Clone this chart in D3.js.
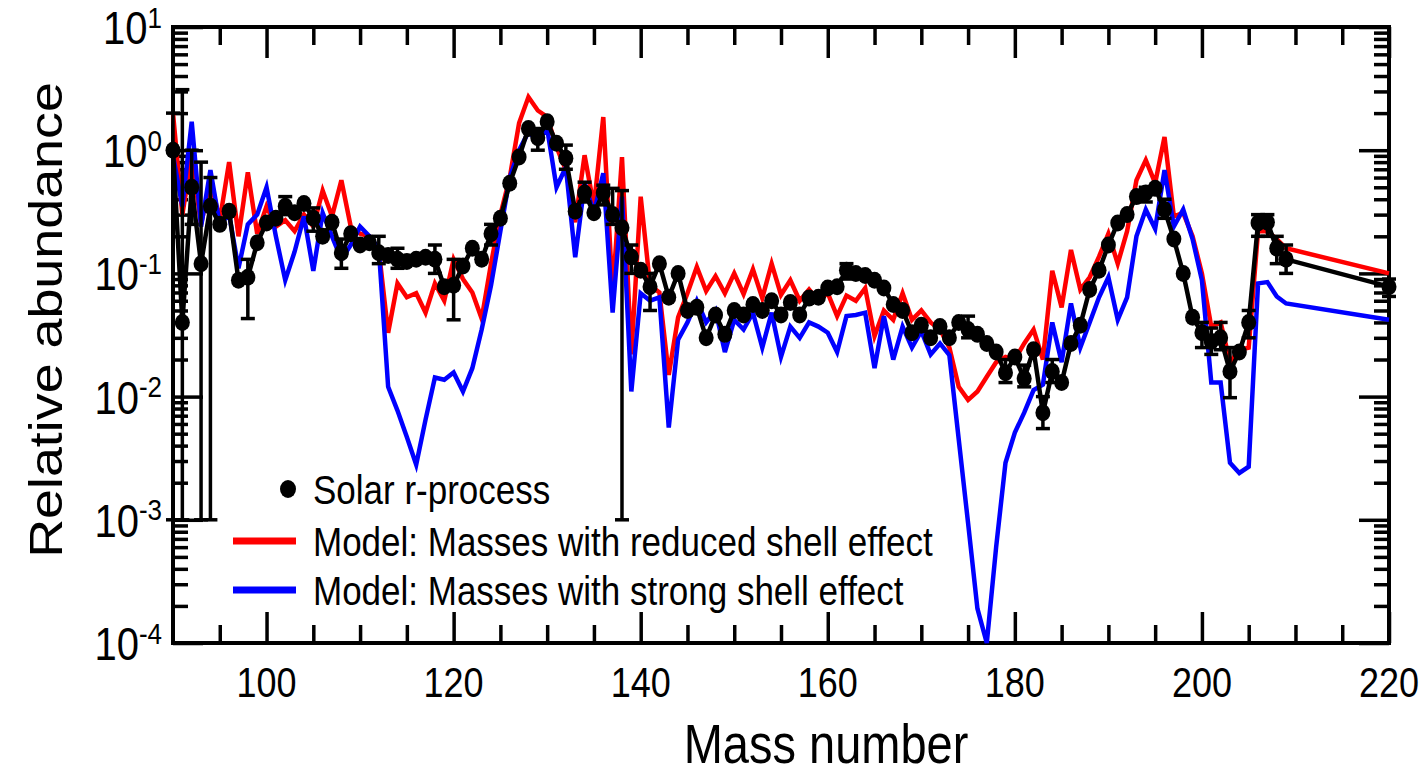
<!DOCTYPE html>
<html>
<head>
<meta charset="utf-8">
<script src="https://cdn.jsdelivr.net/npm/d3@7"></script>
<style>
  html, body { margin: 0; padding: 0; background: #fff; }
  svg { display: block; }
  text { font-family: "Liberation Sans", Arial, sans-serif; fill: #000; }
</style>
</head>
<body>
<svg id="chart" width="1422" height="774"></svg>
<script>
// Mass numbers A for every plotted nucleus
const massNumbers = [
  90, 91, 92, 93, 94, 95, 96, 97, 98, 99,
  100, 101, 102, 103, 104, 105, 106, 107, 108, 109,
  110, 111, 112, 113, 114, 115, 116, 117, 118, 119,
  120, 121, 122, 123, 124, 125, 126, 127, 128, 129,
  130, 131, 132, 133, 134, 135, 136, 137, 138, 139,
  140, 141, 142, 143, 144, 145, 146, 147, 148, 149,
  150, 151, 152, 153, 154, 155, 156, 157, 158, 159,
  160, 161, 162, 163, 164, 165, 166, 167, 168, 169,
  170, 171, 172, 173, 174, 175, 176, 177, 178, 179,
  180, 181, 182, 183, 184, 185, 186, 187, 188, 189,
  190, 191, 192, 193, 194, 195, 196, 197, 198, 199,
  200, 201, 202, 203, 204, 205, 206, 207, 208, 209,
  220
];

// Solar r-process residual abundances
const solarAbundance = [
  1.0, 0.04, 0.5, 0.12, 0.35, 0.25, 0.32, 0.088, 0.093, 0.177,
  0.257, 0.28, 0.35, 0.31, 0.37, 0.28, 0.2, 0.26, 0.147, 0.21,
  0.17, 0.177, 0.147, 0.14, 0.13, 0.125, 0.13, 0.135, 0.13, 0.078,
  0.08, 0.115, 0.16, 0.13, 0.21, 0.28, 0.54, 0.88, 1.5, 1.26,
  1.7, 1.14, 0.86, 0.32, 0.45, 0.31, 0.45, 0.30, 0.235, 0.136,
  0.106, 0.078, 0.12, 0.064, 0.1, 0.05, 0.053, 0.030, 0.046, 0.032,
  0.05, 0.046, 0.056, 0.05, 0.06, 0.046, 0.058, 0.046, 0.063, 0.064,
  0.076, 0.078, 0.106, 0.1, 0.096, 0.088, 0.076, 0.056, 0.05, 0.033,
  0.038, 0.030, 0.037, 0.030, 0.04, 0.035, 0.032, 0.027, 0.023, 0.0156,
  0.021, 0.014, 0.024, 0.0074, 0.016, 0.013, 0.027, 0.038, 0.074, 0.106,
  0.17, 0.257, 0.30, 0.42, 0.45, 0.49, 0.33, 0.19, 0.1, 0.044,
  0.033, 0.028, 0.03, 0.016, 0.023, 0.040, 0.257, 0.26, 0.16, 0.13,
  0.078
];

// Model abundances, masses with reduced shell effect
const reducedShellModel = [
  2.0, 0.3, 0.9, 0.25, 0.57, 0.27, 0.8, 0.2, 0.66, 0.21,
  0.35, 0.24, 0.27, 0.22, 0.3, 0.24, 0.47, 0.29, 0.57, 0.24,
  0.21, 0.2, 0.155, 0.033, 0.083, 0.064, 0.069, 0.048, 0.083, 0.06,
  0.13, 0.09, 0.07, 0.043, 0.12, 0.3, 0.6, 1.66, 2.7, 2.1,
  1.86, 1.06, 0.69, 0.26, 0.91, 0.35, 1.86, 0.069, 0.88, 0.022,
  0.42, 0.08, 0.07, 0.015, 0.044, 0.069, 0.113, 0.072, 0.095, 0.069,
  0.1, 0.068, 0.108, 0.063, 0.12, 0.067, 0.088, 0.06, 0.074, 0.06,
  0.069, 0.045, 0.066, 0.06, 0.076, 0.031, 0.05, 0.042, 0.069, 0.042,
  0.05, 0.04, 0.035, 0.025, 0.012, 0.0094, 0.011, 0.0145, 0.019, 0.021,
  0.02, 0.027, 0.035, 0.02, 0.105, 0.053, 0.155, 0.074, 0.093, 0.137,
  0.21, 0.12, 0.22, 0.57, 0.83, 0.54, 1.28, 0.29, 0.31, 0.2,
  0.1, 0.037, 0.04, 0.019, 0.024, 0.025, 0.22, 0.22, 0.19, 0.16,
  0.1
];

// Model abundances, masses with strong shell effect
const strongShellModel = [
  0.9, 0.35, 1.7, 0.24, 0.69, 0.25, 0.3, 0.11, 0.25, 0.3,
  0.5, 0.2, 0.088, 0.15, 0.29, 0.105, 0.31, 0.2, 0.13, 0.17,
  0.24, 0.2, 0.16, 0.012, 0.0077, 0.0047, 0.0028, 0.0065, 0.0143, 0.0137,
  0.0157, 0.011, 0.017, 0.035, 0.08, 0.22, 0.6, 1.0, 1.4, 1.2,
  1.5, 0.5, 0.73, 0.135, 0.54, 0.31, 0.65, 0.048, 0.42, 0.011,
  0.069, 0.06, 0.064, 0.0056, 0.029, 0.04, 0.06, 0.04, 0.05, 0.023,
  0.042, 0.035, 0.048, 0.025, 0.048, 0.021, 0.037, 0.03, 0.04, 0.037,
  0.033, 0.023, 0.045, 0.046, 0.048, 0.017, 0.045, 0.02, 0.037, 0.025,
  0.034, 0.022, 0.027, 0.0217, 0.0045, 0.00094, 0.00019, 0.0001, 0.0006, 0.0029,
  0.0051, 0.0074, 0.0113, 0.0125, 0.04, 0.019, 0.057, 0.025, 0.04, 0.064,
  0.093, 0.042, 0.064, 0.2, 0.33, 0.23, 0.69, 0.24, 0.33, 0.19,
  0.088, 0.013, 0.013, 0.0029, 0.0024, 0.0027, 0.083, 0.085, 0.065, 0.057,
  0.042
];

// Uncertainty ranges of the solar values: [A, lower, upper]
const solarErrorBars = [
  [90, 0.001, 2.0], [91, 0.001, 3.1], [92, 0.25, 1.0], [93, 0.001, 0.8], [94, 0.001, 0.6],
  [98, 0.043, 0.13], [102, 0.3, 0.42], [105, 0.22, 0.34], [108, 0.11, 0.19], [112, 0.12, 0.2],
  [114, 0.11, 0.16], [118, 0.1, 0.17], [120, 0.042, 0.13], [124, 0.17, 0.25], [129, 1.0, 1.5],
  [132, 0.7, 1.1], [134, 0.38, 0.55], [136, 0.36, 0.52], [137, 0.25, 0.49], [138, 0.001, 0.47],
  [139, 0.1, 0.17], [141, 0.05, 0.1], [162, 0.09, 0.12], [175, 0.03, 0.045], [179, 0.013, 0.02],
  [181, 0.012, 0.018], [183, 0.0055, 0.01], [184, 0.013, 0.02], [194, 0.38, 0.5], [196, 0.28, 0.4],
  [200, 0.025, 0.04], [201, 0.022, 0.036], [202, 0.024, 0.04], [203, 0.0098, 0.025], [205, 0.03, 0.05],
  [206, 0.2, 0.3], [207, 0.2, 0.3], [208, 0.12, 0.2], [209, 0.1, 0.17], [220, 0.065, 0.09]
];

const xMajorTicks = [100, 120, 140, 160, 180, 200, 220];
const xMinorTicks = [95, 105, 110, 115, 125, 130, 135, 145, 150, 155, 165, 170, 175,
                     185, 190, 195, 205, 210, 215];
const yDecadeExponents = [1, 0, -1, -2, -3, -4];
const yMinorMultipliers = [2, 3, 4, 5, 6, 7, 8, 9];
const legendLabels = [
  "Solar r-process",
  "Model: Masses with reduced shell effect",
  "Model: Masses with strong shell effect"
];
const xTitle = "Mass number";
const yTitle = "Relative abundance";

// ---- layout ----
const plot = { left: 173, right: 1389, top: 27, bottom: 643 };
const textStretch = 1.17;           // glyphs are drawn a little taller than wide
const svg = d3.select("#chart");

const x = d3.scaleLinear().domain([90, 220]).range([plot.left, plot.right]);
const y = d3.scaleLog().domain([1e-4, 10]).range([plot.bottom, plot.top]);

// ---- tick marks on all four sides, pointing inward ----
const decadeValues = yDecadeExponents.map(e => Math.pow(10, e));
const yMinorValues = [];
yDecadeExponents.slice(1).forEach(e => {
  yMinorMultipliers.forEach(m => yMinorValues.push(m * Math.pow(10, e)));
});

function tickAxis(gen, tx, ty, values, size) {
  const g = svg.append("g")
    .attr("transform", `translate(${tx},${ty})`)
    .call(gen.tickValues(values).tickSize(-size).tickFormat(""));
  g.select(".domain").remove();
  g.selectAll(".tick line").attr("stroke", "#000").attr("stroke-width", 3.5);
  return g;
}
tickAxis(d3.axisBottom(x), 0, plot.bottom, xMajorTicks, 31);
tickAxis(d3.axisBottom(x), 0, plot.bottom, xMinorTicks, 18);
tickAxis(d3.axisTop(x), 0, plot.top, xMajorTicks, 31);
tickAxis(d3.axisTop(x), 0, plot.top, xMinorTicks, 18);
tickAxis(d3.axisLeft(y), plot.left, 0, decadeValues, 30);
tickAxis(d3.axisLeft(y), plot.left, 0, yMinorValues, 15);
tickAxis(d3.axisRight(y), plot.right, 0, decadeValues, 30);
tickAxis(d3.axisRight(y), plot.right, 0, yMinorValues, 15);

// ---- frame ----
svg.append("rect")
  .attr("x", plot.left).attr("y", plot.top)
  .attr("width", plot.right - plot.left).attr("height", plot.bottom - plot.top)
  .attr("fill", "none").attr("stroke", "#000").attr("stroke-width", 4);

// ---- model curves ----
const line = d3.line().x(d => x(d[0])).y(d => y(d[1]));
const reducedPts = massNumbers.map((a, i) => [a, reducedShellModel[i]]);
const strongPts = massNumbers.map((a, i) => [a, strongShellModel[i]]);
const solarPts = massNumbers.map((a, i) => [a, solarAbundance[i]]);

svg.append("path").datum(reducedPts)
  .attr("d", line).attr("fill", "none")
  .attr("stroke", "#ff0000").attr("stroke-width", 4.5).attr("stroke-linejoin", "miter");
svg.append("path").datum(strongPts)
  .attr("d", line).attr("fill", "none")
  .attr("stroke", "#0000ff").attr("stroke-width", 4.5).attr("stroke-linejoin", "miter");

// ---- solar r-process: connecting line, error bars, markers ----
svg.append("path").datum(solarPts)
  .attr("d", line).attr("fill", "none")
  .attr("stroke", "#000").attr("stroke-width", 4.5);

const eb = svg.append("g").attr("stroke", "#000").attr("stroke-width", 3.5);
solarErrorBars.forEach(([a, lo, hi]) => {
  const cx = x(a);
  eb.append("line").attr("x1", cx).attr("x2", cx).attr("y1", y(lo)).attr("y2", y(hi));
  eb.append("line").attr("x1", cx - 7).attr("x2", cx + 7).attr("y1", y(lo)).attr("y2", y(lo));
  eb.append("line").attr("x1", cx - 7).attr("x2", cx + 7).attr("y1", y(hi)).attr("y2", y(hi));
});

svg.append("g").selectAll("ellipse").data(solarPts).join("ellipse")
  .attr("cx", d => x(d[0])).attr("cy", d => y(d[1]))
  .attr("rx", 7.5).attr("ry", 8.5).attr("fill", "#000");

// ---- tick labels ----
function stretchedText(px, py, str, size, anchor) {
  return svg.append("text")
    .attr("transform", `translate(${px},${py}) scale(1,${textStretch})`)
    .attr("text-anchor", anchor)
    .attr("font-size", size)
    .text(str);
}
xMajorTicks.forEach(v => stretchedText(x(v), 697, String(v), 36, "middle"));

yDecadeExponents.forEach(e => {
  const t = svg.append("text")
    .attr("transform", `translate(162,${y(Math.pow(10, e)) + 17}) scale(1,${textStretch})`)
    .attr("text-anchor", "end");
  t.append("tspan").attr("font-size", 40).text("10");
  t.append("tspan").attr("font-size", 26).attr("dy", -14).text(String(e));
});

// ---- axis titles ----
stretchedText(826, 763, xTitle, 47, "middle");
svg.append("text")
  .attr("transform", `translate(62,320) rotate(-90) scale(${textStretch},1)`)
  .attr("text-anchor", "middle")
  .attr("font-size", 46)
  .text(yTitle);

// ---- legend ----
const legendRows = [489, 541, 590];
svg.append("ellipse").attr("cx", 288).attr("cy", legendRows[0])
  .attr("rx", 8).attr("ry", 9).attr("fill", "#000");
svg.append("line").attr("x1", 233).attr("x2", 296)
  .attr("y1", legendRows[1]).attr("y2", legendRows[1])
  .attr("stroke", "#ff0000").attr("stroke-width", 7);
svg.append("line").attr("x1", 233).attr("x2", 296)
  .attr("y1", legendRows[2]).attr("y2", legendRows[2])
  .attr("stroke", "#0000ff").attr("stroke-width", 7);
legendLabels.forEach((s, i) => stretchedText(313, legendRows[i] + 15, s, 35, "start"));
</script>
</body>
</html>
